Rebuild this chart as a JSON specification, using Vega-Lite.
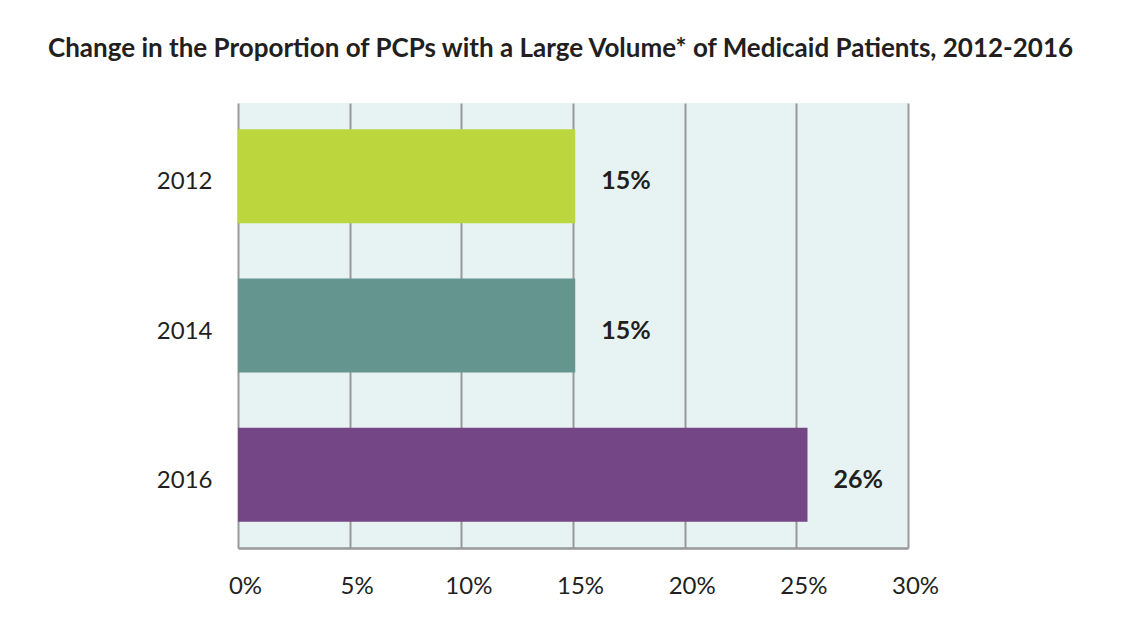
{
  "$schema": "https://vega.github.io/schema/vega-lite/v6.json",
  "width": 670,
  "height": 445,
  "autosize": "none",
  "padding": {"left": 238, "top": 103, "right": 215, "bottom": 94},
  "background": "white",
  "config": {
    "font": "Lato",
    "view": {"fill": "#e7f3f3", "stroke": null}
  },
  "title": {
    "text": "Change in the Proportion of PCPs with a Large Volume* of Medicaid Patients, 2012-2016",
    "font": "Lato",
    "fontSize": 26,
    "fontWeight": "bold",
    "color": "#231f20",
    "anchor": "start",
    "frame": "group",
    "dx": -190,
    "offset": 41
  },
  "data": {
    "values": [
      {"year": "2012", "value": 15.1, "label": "15%"},
      {"year": "2014", "value": 15.1, "label": "15%"},
      {"year": "2016", "value": 25.5, "label": "26%"}
    ]
  },
  "encoding": {
    "y": {
      "field": "year",
      "type": "nominal",
      "sort": ["2012", "2014", "2016"],
      "scale": {"paddingInner": 0.37, "paddingOuter": 0.175},
      "axis": {
        "title": null,
        "ticks": false,
        "domain": false,
        "labelFontSize": 24,
        "labelColor": "#231f20",
        "labelPadding": 26,
        "labelOffset": 6,
        "labelFont": "Lato"
      }
    },
    "x": {
      "field": "value",
      "type": "quantitative",
      "scale": {"domain": [0, 30], "nice": false},
      "axis": {
        "title": null,
        "values": [0, 5, 10, 15, 20, 25, 30],
        "labelExpr": "datum.value + '%'",
        "labelFlush": false,
        "labelOffset": 7,
        "ticks": false,
        "domain": true,
        "domainColor": "#999999",
        "domainWidth": 2.5,
        "grid": true,
        "gridColor": "#999999",
        "gridWidth": 2,
        "gridOpacity": 1,
        "labelFontSize": 24,
        "labelColor": "#231f20",
        "labelPadding": 26,
        "labelFont": "Lato"
      }
    }
  },
  "layer": [
    {
      "mark": {"type": "bar"},
      "encoding": {
        "color": {
          "field": "year",
          "type": "nominal",
          "scale": {"domain": ["2012", "2014", "2016"], "range": ["#bcd63e", "#64968f", "#744686"]},
          "legend": null
        }
      }
    },
    {
      "mark": {"type": "text", "align": "left", "baseline": "middle", "dx": 26, "dy": 5, "fontSize": 25, "fontWeight": "bold", "color": "#231f20", "font": "Lato"},
      "encoding": {
        "text": {"field": "label"}
      }
    }
  ]
}
